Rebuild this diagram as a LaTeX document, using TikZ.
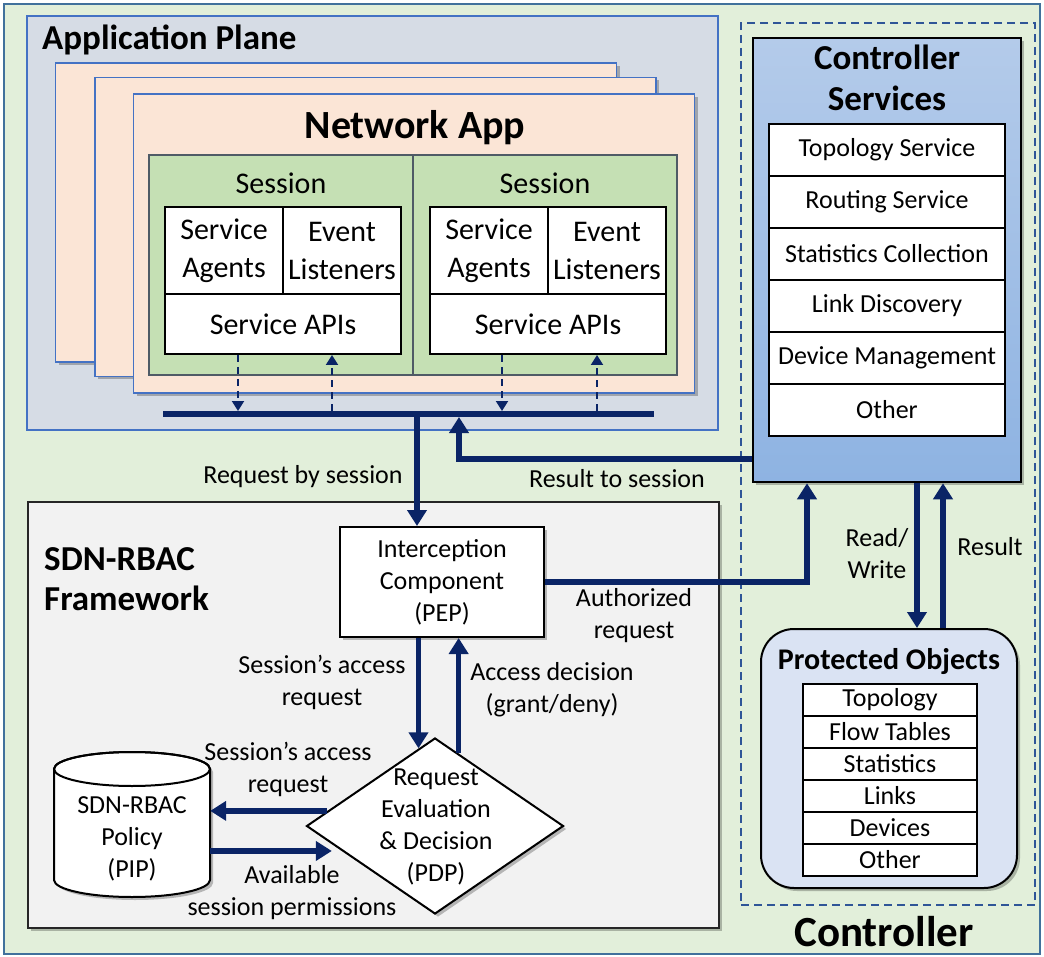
\documentclass[tikz,border=0pt]{standalone}
\usepackage{fontspec}
\setmainfont{Carlito}
\usetikzlibrary{arrows.meta,shapes.geometric,shadows}
\definecolor{outerbg}{HTML}{E2EFDA}
\definecolor{outerbd}{HTML}{41719C}
\definecolor{appbg}{HTML}{D6DCE5}
\definecolor{appbd}{HTML}{4472C4}
\definecolor{netbg}{HTML}{FBE5D6}
\definecolor{sesbg}{HTML}{C5E0B4}
\definecolor{sesbd}{HTML}{4F5B66}
\definecolor{fwbg}{HTML}{F2F2F2}
\definecolor{fwbd}{HTML}{262626}
\definecolor{csTop}{HTML}{B4CBEA}
\definecolor{csBot}{HTML}{8EB3E2}
\definecolor{pobg}{HTML}{DAE3F3}
\definecolor{navy}{HTML}{0A2466}
\definecolor{ctrlbd}{HTML}{2F5597}
\begin{document}
\begin{tikzpicture}[x=1pt,y=-1pt,font=\fontsize{26}{32}\selectfont,
  shd/.style={drop shadow={shadow xshift=3pt,shadow yshift=-3pt,opacity=0.25,fill=black}},
  arr/.style={draw=navy,line width=5.5pt,-{Triangle[width=19pt,length=16pt]}},
  darr/.style={draw=navy,line width=2pt,dash pattern=on 7pt off 5pt,-{Triangle[width=12pt,length=10pt]}},
  lbl/.style={align=center,inner sep=0},
  titlefont/.style={inner sep=0,font=\fontsize{35}{40}\selectfont\bfseries},
  napp/.style={draw=appbd,fill=netbg,line width=1.5pt,inner sep=0,minimum width=561,minimum height=299,shd},
  sess/.style={draw=sesbd,fill=sesbg,line width=2pt,inner sep=0,minimum width=264,minimum height=220},
  cell/.style={draw=black,fill=white,line width=2pt,inner sep=0,align=center,font=\fontsize{30}{38}\selectfont},
  csrow/.style={draw=black,fill=white,line width=2pt,inner sep=0,minimum width=236,minimum height=52},
  porow/.style={draw=black,fill=white,line width=2pt,inner sep=0,minimum width=174,minimum height=32},
]
\useasboundingbox (0,0) rectangle (1044,957);
% outer
\node[draw=outerbd,line width=1.5pt,fill=outerbg,inner sep=0,minimum width=1036,minimum height=950] (outer) at (522,479) {};
% application plane
\node[draw=appbd,fill=appbg,line width=1.5pt,inner sep=0,minimum width=691,minimum height=414] (app) at (372.5,223) {};
\node[titlefont,anchor=west] (apptitle) at (42,40) {Application Plane};
\node[napp] (na1) at (336,212.5) {};
\node[napp] (na2) at (375.5,227) {};
\node[napp] (na3) at (414,243.5) {};
\node[inner sep=0,font=\fontsize{40}{44}\selectfont\bfseries] (natitle) at (415,128) {Network App};
% sessions
\node[sess] (s1) at (281,265) {};
\node[sess] (s2) at (545,265) {};
\node[inner sep=0,font=\fontsize{30}{36}\selectfont] (s1t) at (281,183) {Session};
\node[inner sep=0,font=\fontsize{30}{36}\selectfont] (s2t) at (545,183) {Session};
\node[cell,minimum width=118,minimum height=87] (sa1) at (224,250.5) {Service\\Agents};
\node[cell,minimum width=118,minimum height=87] (el1) at (342,250.5) {Event\\Listeners};
\node[cell,minimum width=236,minimum height=60] (api1) at (283,324) {Service APIs};
\node[cell,minimum width=118,minimum height=87] (sa2) at (489,250.5) {Service\\Agents};
\node[cell,minimum width=118,minimum height=87] (el2) at (607,250.5) {Event\\Listeners};
\node[cell,minimum width=236,minimum height=60] (api2) at (548,324) {Service APIs};
% bus
\coordinate (busL) at (163,414);
\coordinate (busR) at (654,414);
\draw[navy,line width=6pt] (busL) -- (busR);
\draw[darr,shorten >=3pt] ([xshift=-45pt]api1.south) -- ([xshift=-45pt]api1.south |- busL);
\draw[darr,shorten <=3pt] ([xshift=49pt]api1.south |- busL) -- ([xshift=49pt]api1.south);
\draw[darr,shorten >=3pt] ([xshift=-46pt]api2.south) -- ([xshift=-46pt]api2.south |- busL);
\draw[darr,shorten <=3pt] ([xshift=49pt]api2.south |- busL) -- ([xshift=49pt]api2.south);
% controller
\node[draw=ctrlbd,line width=1.5pt,dash pattern=on 8pt off 5pt,inner sep=0,minimum width=294,minimum height=882] (ctrl) at (888,464) {};
\node[inner sep=0,font=\fontsize{43}{48}\selectfont\bfseries] (ctrltitle) at (884,932) {Controller};
\node[draw=black,line width=2.5pt,top color=csTop,bottom color=csBot,inner sep=0,minimum width=268,minimum height=444,shd] (cs) at (887,260) {};
\node[titlefont,align=center,font=\fontsize{35}{41}\selectfont\bfseries] (cstitle) at (887,78) {Controller\\Services};
\node[csrow] (cs1) at (887,150) {Topology Service};
\node[csrow] (cs2) at (887,202) {Routing Service};
\node[csrow] (cs3) at (887,254) {Statistics Collection};
\node[csrow] (cs4) at (887,306) {Link Discovery};
\node[csrow] (cs5) at (887,358) {Device Management};
\node[csrow] (cs6) at (887,410) {Other};
% protected objects
\node[draw=black,fill=pobg,line width=2pt,rounded corners=33pt,minimum width=256,minimum height=259,inner sep=0,shd] (po) at (889,758.5) {};
\node[inner sep=0,font=\fontsize{30}{36}\selectfont\bfseries] (potitle) at (889,662) {Protected Objects};
\node[porow] (po1) at (890,700) {Topology};
\node[porow] (po2) at (890,732) {Flow Tables};
\node[porow] (po3) at (890,764) {Statistics};
\node[porow] (po4) at (890,796) {Links};
\node[porow] (po5) at (890,828) {Devices};
\node[porow] (po6) at (890,860) {Other};
% framework
\node[draw=fwbd,fill=fwbg,line width=2.5pt,inner sep=0,minimum width=691,minimum height=426,shd] (fw) at (373.5,715) {};
\node[titlefont,anchor=west,align=left] (fwtitle) at (44,579) {SDN-RBAC\\Framework};
\node[draw=black,fill=white,line width=2pt,minimum width=204,minimum height=110,inner sep=0,align=center,shd] (pep) at (442,582) {Interception\\Component\\(PEP)};
\node[diamond,draw=black,fill=white,line width=2pt,minimum width=257,minimum height=176,inner sep=0,aspect=1.46,shd] (pdp) at (435,826) {};
\node[lbl] (pdptext) at (436,827) {Request\\Evaluation\\\& Decision\\(PDP)};
% cylinder
\path[draw=black,fill=white,line width=2pt,shd] (54,769) -- (54,880) arc[start angle=180,end angle=0,x radius=78,y radius=17] -- (210,769) arc[start angle=0,end angle=-180,x radius=78,y radius=17] -- cycle;
\draw[line width=2pt] (132,769) ellipse[x radius=78,y radius=17];
\node[inner sep=0,minimum width=156,minimum height=145] (pip) at (132,824.5) {};
\node[lbl] (piptext) at (132,839) {SDN-RBAC\\Policy\\(PIP)};
% connectors
\coordinate (reqTop) at (417,414);
\draw[arr] (reqTop) -- (reqTop |- pep.north);
\coordinate (resTip) at (459,417);
\coordinate (resY) at (0,459);
\draw[arr] (cs.west |- resY) -- (resTip |- resY) -- (resTip);
\coordinate (authX) at (807,0);
\draw[arr] (pep.east) -- (pep.east -| authX) -- (authX |- cs.south);
\coordinate (rwX) at (917,0);
\coordinate (resX) at (943,0);
\draw[arr] (rwX |- cs.south) -- (rwX |- po.north);
\draw[arr] (resX |- po.north) -- (resX |- cs.south);
\draw[arr] (pdp.102.5 |- pep.south) -- (pdp.102.5);
\draw[arr] (pdp.72) -- (pdp.72 |- pep.south);
\draw[arr] (pdp.172) -- (pdp.172 -| pip.east);
\draw[arr,shorten >=10pt] (pip.east |- pdp.195) -- (pdp.195);
% labels
\node[lbl] (l1) at (303,477) {Request by session};
\node[lbl] (l2) at (617,479) {Result to session};
\node[lbl] (l3) at (634,616) {Authorized\\request};
\node[lbl] (l4) at (322,682) {Session’s access\\request};
\node[lbl] (l5) at (552,690) {Access decision\\(grant/deny)};
\node[lbl] (l6) at (288,769) {Session’s access\\request};
\node[lbl] (l7) at (292,893) {Available\\session permissions};
\node[lbl] (l8) at (877,554) {Read/\\Write};
\node[lbl] (l9) at (990,547) {Result};
\end{tikzpicture}
\end{document}
